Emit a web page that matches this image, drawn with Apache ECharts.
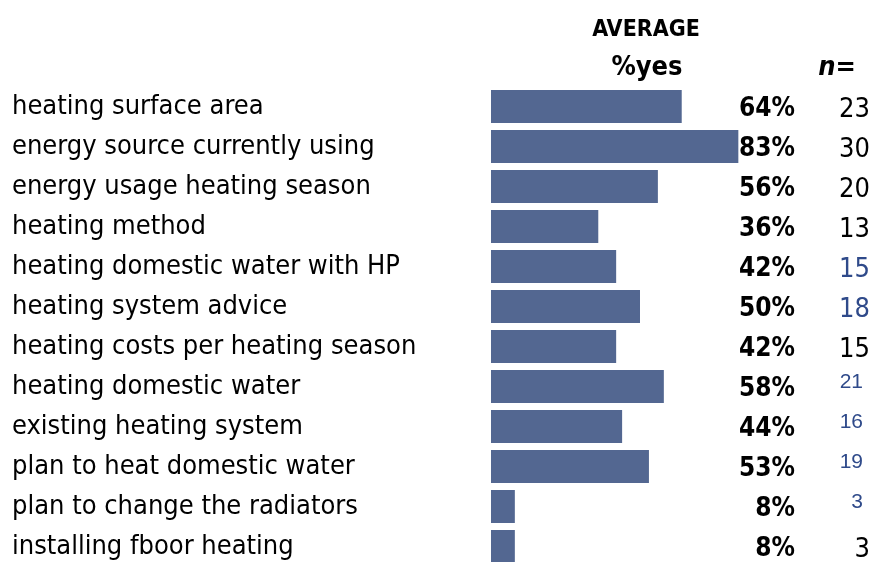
<!DOCTYPE html>
<html>
<head>
<meta charset="utf-8">
<script src="https://cdn.jsdelivr.net/npm/echarts@6/dist/echarts.min.js"></script>
<style>
  html, body { margin: 0; padding: 0; background: #ffffff; overflow: hidden; }
  /* the last row runs past the bottom edge of the 562px window */
  #chart { width: 872px; height: 600px; }
</style>
</head>
<body>
<div id="chart"></div>
<script>
// Survey topics, share answering "yes" and number of respondents
const topics = [
  'heating surface area',
  'energy source currently using',
  'energy usage heating season',
  'heating method',
  'heating domestic water with HP',
  'heating system advice',
  'heating costs per heating season',
  'heating domestic water',
  'existing heating system',
  'plan to heat domestic water',
  'plan to change the radiators',
  'installing fboor heating'
];
const pctYes = [64, 83, 56, 36, 42, 50, 42, 58, 44, 53, 8, 8];
const nCount = [23, 30, 20, 13, 15, 18, 15, 21, 16, 19, 3, 3];
// style of each n= figure: 'k' black, 'b' blue, 's' small blue
const nStyle = ['k', 'k', 'k', 'k', 'b', 'b', 'k', 's', 's', 's', 's', 'k'];

const BAR = '#536791';
const BLUE = '#2f4a8a';
const FONT = 'DejaVu Sans Condensed';
const SIZE = 27;

const nLabel = function (i) {
  const base = {
    show: true,
    position: [379, '50%'],
    offset: [0, 3],
    align: 'right',
    verticalAlign: 'middle',
    fontFamily: FONT,
    fontSize: SIZE,
    color: '#000000'
  };
  if (nStyle[i] === 'b') base.color = BLUE;
  if (nStyle[i] === 's') {
    base.color = BLUE;
    base.fontFamily = 'Liberation Sans';
    base.fontSize = 21;
    base.position = [372, '50%'];
    base.offset = [0, -4];
  }
  return base;
};

const chart = echarts.init(document.getElementById('chart'), null, { renderer: 'canvas' });
chart.setOption({
  animation: false,
  backgroundColor: '#ffffff',
  title: [
    { text: 'AVERAGE', left: 641, top: 14, textAlign: 'center',
      textStyle: { fontFamily: FONT, fontWeight: 'bold', fontSize: 23, color: '#000' } },
    { text: '%yes', left: 642, top: 49, textAlign: 'center',
      textStyle: { fontFamily: FONT, fontWeight: 'bold', fontSize: SIZE, color: '#000' } },
    { text: 'n=', left: 832, top: 49, textAlign: 'center',
      textStyle: { fontFamily: FONT, fontWeight: 'bold', fontStyle: 'italic', fontSize: SIZE, color: '#000' } }
  ],
  grid: { left: 491, top: 86.5, width: 298, height: 480, containLabel: false },
  xAxis: { type: 'value', min: 0, max: 100, show: false },
  yAxis: {
    type: 'category',
    data: topics,
    inverse: true,
    axisLine: { show: false },
    axisTick: { show: false },
    axisLabel: {
      align: 'left',
      margin: 479,
      padding: [5, 0, 0, 0],
      fontFamily: FONT,
      fontSize: SIZE,
      color: '#000000'
    }
  },
  series: [
    {
      type: 'bar',
      data: pctYes,
      barWidth: 33,
      itemStyle: { color: BAR },
      label: {
        show: true,
        position: [304, '50%'],
        offset: [0, 3],
        align: 'right',
        verticalAlign: 'middle',
        formatter: '{c}%',
        fontFamily: FONT,
        fontWeight: 'bold',
        fontSize: 26,
        color: '#000000'
      },
      silent: true
    },
    {
      type: 'bar',
      data: nCount.map(function (v, i) { return { value: v, label: nLabel(i) }; }),
      barWidth: 33,
      barGap: '-100%',
      itemStyle: { color: 'rgba(0,0,0,0)' },
      label: { show: true, formatter: '{c}' },
      silent: true,
      z: 1
    }
  ]
});
</script>
</body>
</html>
